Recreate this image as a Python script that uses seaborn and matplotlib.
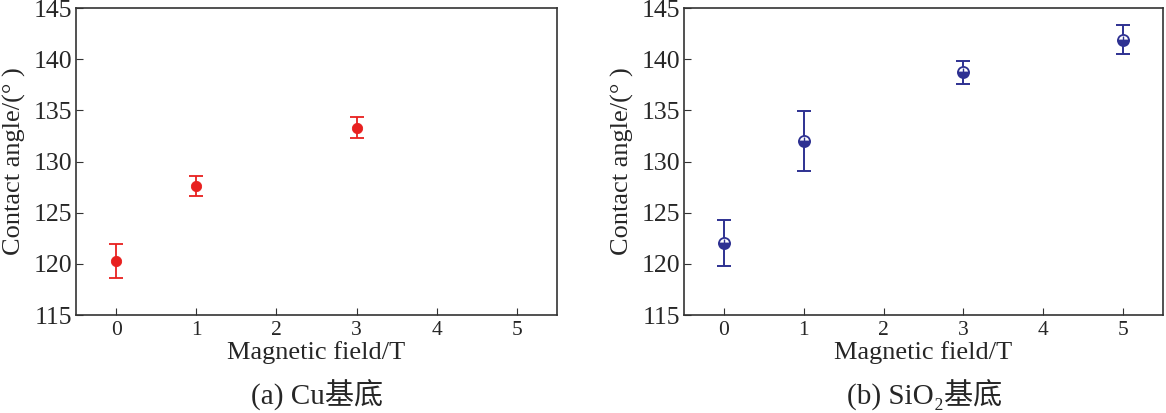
import numpy as np
import pandas as pd
import seaborn as sns
import matplotlib.pyplot as plt

# data
cu_field = [0, 1, 3]
cu_angle = [120.3, 127.6, 133.3]
cu_err = [1.65, 1.0, 1.0]

sio2_field = [0, 1, 3, 5]
sio2_angle = [122.0, 132.0, 138.7, 141.9]
sio2_err = [2.25, 2.95, 1.1, 1.4]

xticks = [0, 1, 2, 3, 4, 5]
yticks = [115, 120, 125, 130, 135, 140, 145]

sns.set_style("white")
plt.rcParams['font.family'] = ['Liberation Serif', 'Noto Sans CJK SC']

fig = plt.figure(figsize=(11.66, 4.13), dpi=100)
W, H = 1166, 413
ax1 = fig.add_axes([76 / W, 98 / H, 481 / W, 307 / H])
ax2 = fig.add_axes([684 / W, 98 / H, 479 / W, 307 / H])

red = '#e8201f'
blue = '#2e3192'

cu = pd.DataFrame({'field': cu_field, 'angle': cu_angle, 'err': cu_err})
sio2 = pd.DataFrame({'field': sio2_field, 'angle': sio2_angle, 'err': sio2_err})

sns.scatterplot(data=cu, x='field', y='angle', ax=ax1, color=red,
                s=55, edgecolor=red, zorder=3, legend=False)
ax1.errorbar(cu['field'], cu['angle'], yerr=cu['err'], fmt='none',
             ecolor=red, elinewidth=1.3, capsize=4.8, capthick=1.3)

ax2.errorbar(sio2['field'], sio2['angle'], yerr=sio2['err'], fmt='none',
             ecolor=blue, elinewidth=1.4, capsize=4.8, capthick=1.4, zorder=2)
ax2.plot(sio2['field'], sio2['angle'], ls='none', marker='o', ms=8,
         color=blue, fillstyle='bottom', markerfacecoloralt='white',
         markeredgecolor=blue, markeredgewidth=1.3, zorder=3)
ax2.vlines(sio2['field'], sio2['angle'], sio2['angle'] + 0.4,
           color=blue, lw=1.0, zorder=4)

for ax in (ax1, ax2):
    ax.set_xlim(-0.5, 5.5)
    ax.set_ylim(115, 145)
    ax.set_xticks(xticks)
    ax.set_yticks(yticks)
    ax.tick_params(axis='y', direction='in', length=5, labelsize=18.5,
                   left=True, right=False, pad=3, color='#333333')
    ax.tick_params(axis='x', direction='in', length=5, labelsize=15.5,
                   bottom=True, top=False, pad=4, color='#333333')
    for sp in ax.spines.values():
        sp.set_color('#333333')
        sp.set_linewidth(1.2)
    ax.set_xlabel('Magnetic field/T', fontsize=19, labelpad=1)
    ax.set_ylabel('Contact angle/(° )', fontsize=19, labelpad=5)

fig.text(317 / W, 1 - 394 / H, '(a) Cu基底', ha='center', va='center',
         fontsize=21)
fig.text(925 / W, 1 - 394 / H, '(b) SiO₂基底', ha='center', va='center',
         fontsize=21)

fig.savefig('out.png', dpi=100)
